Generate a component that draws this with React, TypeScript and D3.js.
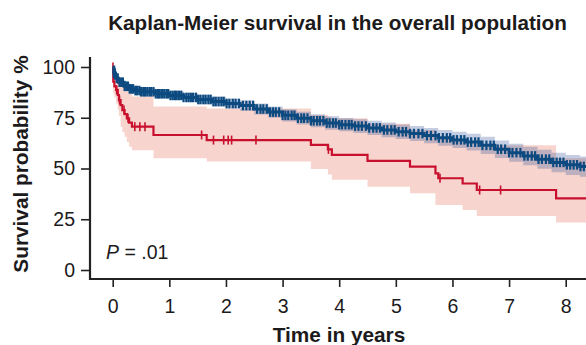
import React, { useEffect, useRef } from "react";
import * as d3 from "d3";

// Kaplan-Meier estimates (time in years, survival in %)
const blueTimes = [0, 0.02, 0.05, 0.1, 0.2, 0.3, 0.4, 0.5, 0.75, 1.0, 1.25, 1.5, 1.75, 2.0, 2.25, 2.5, 2.75, 3.0, 3.25, 3.5, 3.75, 4.0, 4.25, 4.5, 4.75, 5.0, 5.25, 5.5, 5.75, 6.0, 6.25, 6.5, 6.75, 7.0, 7.25, 7.5, 7.75, 8.0, 8.25, 8.5];
const blueSurv = [100, 97, 94.5, 92.5, 90.5, 89.2, 88.4, 87.8, 86.8, 86, 85, 84, 83, 82, 81, 79.3, 77.8, 76.2, 74.8, 73.5, 72.4, 71.6, 70.9, 70, 69, 68.1, 67.2, 66.2, 65.1, 64.1, 63, 61.4, 59.5, 57.8, 56.2, 54.6, 53, 51.8, 51, 50.5];
const blueLower = [100, 96, 93.2, 91, 88.9, 87.5, 86.6, 85.9, 84.8, 83.9, 82.8, 81.7, 80.6, 79.5, 78.4, 76.6, 75, 73.2, 71.7, 70.3, 69.1, 68.3, 67.5, 66.5, 65.4, 64.5, 63.5, 62.4, 61.2, 60.1, 58.9, 57.2, 55.2, 53.3, 51.6, 49.9, 48.2, 46.8, 45.9, 45.3];
const blueUpper = [100, 98, 95.8, 94, 92.1, 90.9, 90.2, 89.7, 88.8, 88.1, 87.2, 86.3, 85.4, 84.5, 83.6, 82, 80.6, 79.2, 77.9, 76.7, 75.7, 74.9, 74.3, 73.5, 72.6, 71.7, 70.9, 70, 69, 68.1, 67.1, 65.6, 63.8, 62.2, 60.7, 59.2, 57.7, 56.6, 55.9, 55.5];
const blueCensored = [0.02, 0.04, 0.07, 0.09, 0.12, 0.15, 0.18, 0.21, 0.24, 0.27, 0.3, 0.33, 0.36, 0.4, 0.43, 0.47, 0.5, 0.54, 0.57, 0.61, 0.65, 0.68, 0.72, 0.76, 0.8, 0.83, 0.87, 0.91, 0.95, 0.98, 1.02, 1.06, 1.1, 1.13, 1.17, 1.21, 1.25, 1.3, 1.34, 1.38, 1.42, 1.47, 1.51, 1.55, 1.6, 1.64, 1.69, 1.73, 1.78, 1.82, 1.87, 1.92, 1.96, 2.01, 2.06, 2.12, 2.17, 2.23, 2.3, 2.36, 2.42, 2.48, 2.55, 2.61, 2.66, 2.72, 2.78, 2.83, 2.88, 2.94, 3.0, 3.05, 3.1, 3.16, 3.21, 3.27, 3.33, 3.38, 3.44, 3.5, 3.55, 3.61, 3.66, 3.72, 3.78, 3.83, 3.89, 3.94, 4.0, 4.05, 4.11, 4.17, 4.22, 4.28, 4.34, 4.4, 4.47, 4.53, 4.6, 4.66, 4.72, 4.79, 4.85, 4.92, 4.98, 5.05, 5.12, 5.18, 5.25, 5.32, 5.4, 5.47, 5.55, 5.62, 5.7, 5.76, 5.83, 5.9, 5.96, 6.02, 6.08, 6.15, 6.21, 6.27, 6.33, 6.4, 6.46, 6.53, 6.6, 6.67, 6.73, 6.8, 6.86, 6.93, 7.0, 7.06, 7.13, 7.2, 7.27, 7.33, 7.4, 7.46, 7.52, 7.58, 7.65, 7.71, 7.78, 7.84, 7.9, 7.96, 8.02, 8.08, 8.14, 8.2, 8.26, 8.32, 8.38, 8.44];

const redTimes = [0, 0.01, 0.03, 0.06, 0.09, 0.11, 0.14, 0.17, 0.21, 0.25, 0.29, 0.34, 0.72, 1.66, 3.5, 3.8, 3.87, 4.5, 5.25, 5.7, 5.75, 6.18, 6.43, 7.83, 8.6];
const redSurv = [100, 92.8, 90.5, 88.7, 86.2, 83.7, 81.2, 78.8, 76.8, 74.7, 72.6, 70.6, 66.5, 64, 61.6, 59.4, 56.7, 53.8, 50.9, 47.6, 45.2, 42.6, 39.4, 35.3, 35.3];
const redLower = [100, 87, 85, 82, 79, 76, 70.6, 68, 65.7, 63, 60.7, 59, 55, 53.4, 49.7, 47, 44.5, 41, 37.8, 32, 32, 29.6, 26.6, 23.4, 23.4];
const redUpper = [100, 98, 97, 96, 94.5, 93, 91.5, 90, 89, 88, 87, 85.5, 80.5, 79.5, 76.4, 75.5, 74.7, 72, 69, 65.5, 65, 63.5, 61.5, 55, 55];
const redCensored = [0.005, 0.07, 0.12, 0.2, 0.27, 0.39, 0.48, 0.57, 1.57, 1.78, 1.96, 2.04, 2.1, 2.53, 3.81, 5.78, 6.48, 6.85];

const yTicks = [0, 25, 50, 75, 100];
const xTicks = [0, 1, 2, 3, 4, 5, 6, 7, 8];

const BLUE = "#0c4a80";
const RED = "#c8102e";
const INK = "#1c1a1b";
const FONT = "'Liberation Sans', Arial, Helvetica, sans-serif";

type Pt = { t: number; s: number; lo: number; hi: number };

const toPoints = (times: number[], surv: number[], lo: number[], hi: number[]): Pt[] =>
  times.map((t, i) => ({ t, s: surv[i], lo: lo[i], hi: hi[i] }));

// survival value of a step curve at time t
const stepAt = (pts: Pt[], t: number) => {
  let v = pts[0].s;
  for (const p of pts) {
    if (p.t <= t) v = p.s;
    else break;
  }
  return v;
};

export default function App() {
  const svgRef = useRef<SVGSVGElement>(null);

  useEffect(() => {
    const width = 586;
    const height = 345;
    const svg = d3.select(svgRef.current);
    svg.selectAll("*").remove();

    const x = d3.scaleLinear().domain([0, 8]).range([112.7, 565.7]);
    const y = d3.scaleLinear().domain([0, 100]).range([270, 67]);

    const blue = toPoints(blueTimes, blueSurv, blueLower, blueUpper);
    const red = toPoints(redTimes, redSurv, redLower, redUpper);

    const band = d3
      .area<Pt>()
      .x((d) => x(d.t))
      .y0((d) => y(d.lo))
      .y1((d) => y(d.hi))
      .curve(d3.curveStepAfter);
    const line = d3
      .line<Pt>()
      .x((d) => x(d.t))
      .y((d) => y(d.s))
      .curve(d3.curveStepAfter);

    // confidence bands
    svg.append("path").attr("d", band(red)).attr("fill", "#f7d4cd");
    svg.append("path").attr("d", band(blue)).attr("fill", "rgba(58,90,154,0.3)");

    // red curve + censor marks
    svg
      .append("path")
      .attr("d", line(red))
      .attr("fill", "none")
      .attr("stroke", RED)
      .attr("stroke-width", 2.2);
    svg
      .append("g")
      .selectAll("line")
      .data(redCensored)
      .enter()
      .append("line")
      .attr("x1", (d) => x(d))
      .attr("x2", (d) => x(d))
      .attr("y1", (d) => y(stepAt(red, d)) - 4.5)
      .attr("y2", (d) => y(stepAt(red, d)) + 4.5)
      .attr("stroke", RED)
      .attr("stroke-width", 1.6);

    // blue curve + censor marks
    svg
      .append("path")
      .attr("d", line(blue))
      .attr("fill", "none")
      .attr("stroke", BLUE)
      .attr("stroke-width", 3);
    svg
      .append("g")
      .selectAll("line")
      .data(blueCensored)
      .enter()
      .append("line")
      .attr("x1", (d) => x(d))
      .attr("x2", (d) => x(d))
      .attr("y1", (d) => y(stepAt(blue, d)) - 4.8)
      .attr("y2", (d) => y(stepAt(blue, d)) + 4.8)
      .attr("stroke", BLUE)
      .attr("stroke-width", 2.2);

    // axes
    const yAxis = svg
      .append("g")
      .attr("transform", "translate(90,0)")
      .call(d3.axisLeft(y).tickValues(yTicks).tickSize(9).tickPadding(6));
    const xAxis = svg
      .append("g")
      .attr("transform", "translate(0,279)")
      .call(d3.axisBottom(x).tickValues(xTicks).tickSize(8).tickPadding(12));

    [yAxis, xAxis].forEach((g) => {
      g.select(".domain").remove();
      g.selectAll("line").attr("stroke", "#222").attr("stroke-width", 1.6);
      g.selectAll("text")
        .attr("fill", INK)
        .style("font-family", FONT)
        .style("font-size", "19.5px");
    });

    svg
      .append("path")
      .attr("d", `M90,57V279H${width}`)
      .attr("fill", "none")
      .attr("stroke", "#222")
      .attr("stroke-width", 2.2);

    // titles
    svg
      .append("text")
      .attr("x", 337.5)
      .attr("y", 30)
      .attr("text-anchor", "middle")
      .style("font-family", FONT)
      .style("font-weight", "bold")
      .style("font-size", "20.7px")
      .attr("fill", INK)
      .text("Kaplan-Meier survival in the overall population");

    svg
      .append("text")
      .attr("x", 339)
      .attr("y", 342)
      .attr("text-anchor", "middle")
      .style("font-family", FONT)
      .style("font-weight", "bold")
      .style("font-size", "20.8px")
      .attr("fill", INK)
      .text("Time in years");

    svg
      .append("text")
      .attr("transform", "translate(27.5,164) rotate(-90)")
      .attr("text-anchor", "middle")
      .style("font-family", FONT)
      .style("font-weight", "bold")
      .style("font-size", "20.8px")
      .attr("fill", INK)
      .text("Survival probability %");

    const p = svg
      .append("text")
      .attr("x", 106)
      .attr("y", 259)
      .style("font-family", FONT)
      .style("font-size", "19.5px")
      .attr("fill", INK);
    p.append("tspan").style("font-style", "italic").text("P");
    p.append("tspan").text(" = .01");

    svg.attr("width", width).attr("height", height);
  }, []);

  return (
    <svg
      ref={svgRef}
      width={586}
      height={345}
      style={{ position: "absolute", left: 0, top: 0, background: "#fff" }}
    />
  );
}
